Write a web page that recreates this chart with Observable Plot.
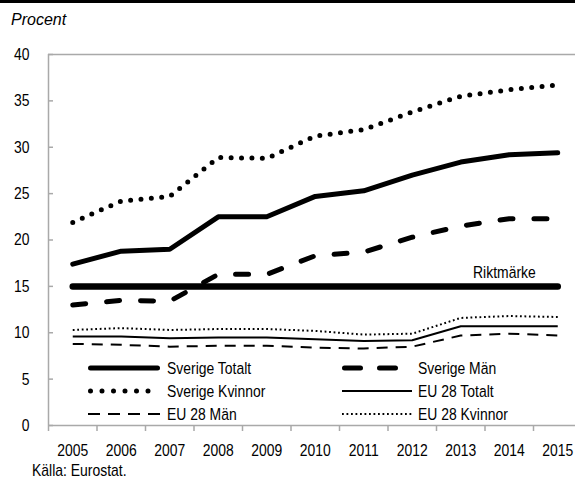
<!DOCTYPE html>
<html><head><meta charset="utf-8">
<script src="https://cdn.jsdelivr.net/npm/d3@7"></script>
<script src="https://cdn.jsdelivr.net/npm/@observablehq/plot@0.6"></script>
<style>
body{margin:0;background:#fff;}
#wrap{position:relative;width:575px;height:481px;overflow:hidden;background:#fff;font-family:"Liberation Sans",Arial,sans-serif;color:#000;}
#bar{position:absolute;left:0;top:0;width:575px;height:3px;background:#000;}
#title{position:absolute;left:11px;top:11px;font:italic 16px "Liberation Sans",Arial,sans-serif;}
#chart{position:absolute;left:0;top:0;}
#legend{position:absolute;left:0;top:0;}
#source{position:absolute;left:32px;top:461px;font-size:17px;line-height:20px;transform:scaleX(0.82);transform-origin:0 0;white-space:nowrap;}
</style></head>
<body><div id="wrap"><div id="chart"></div><svg id="legend" width="575" height="481"></svg><div id="bar"></div><div id="title">Procent</div><div id="source">Källa: Eurostat.</div></div>
<script>
const years = [2005, 2006, 2007, 2008, 2009, 2010, 2011, 2012, 2013, 2014, 2015];
const seriesNames = ["Sverige Totalt", "Sverige Män", "Sverige Kvinnor", "EU 28 Totalt", "EU 28 Män", "EU 28 Kvinnor"];
const sverigeTotalt  = [17.4, 18.8, 19.0, 22.5, 22.5, 24.7, 25.3, 27.0, 28.4, 29.2, 29.4];
const sverigeMan     = [13.0, 13.5, 13.4, 16.3, 16.3, 18.3, 18.7, 20.3, 21.5, 22.3, 22.3];
const sverigeKvinnor = [21.9, 24.2, 24.7, 28.9, 28.8, 31.2, 31.9, 33.8, 35.5, 36.2, 36.7];
const eu28Totalt     = [9.6, 9.6, 9.4, 9.5, 9.5, 9.3, 9.1, 9.2, 10.7, 10.7, 10.7];
const eu28Man        = [8.8, 8.7, 8.5, 8.6, 8.6, 8.4, 8.3, 8.5, 9.7, 9.9, 9.7];
const eu28Kvinnor    = [10.3, 10.5, 10.3, 10.4, 10.4, 10.2, 9.8, 9.9, 11.6, 11.8, 11.7];
const riktmarke = 15;
const riktmarkeLabel = "Riktmärke";
const yTicks = [0, 5, 10, 15, 20, 25, 30, 35, 40];

const seriesValues = [sverigeTotalt, sverigeMan, sverigeKvinnor, eu28Totalt, eu28Man, eu28Kvinnor];
const styles = [
  {strokeWidth: 5, strokeDasharray: null, strokeLinecap: "round"},
  {strokeWidth: 5, strokeDasharray: "13 21", strokeLinecap: "round"},
  {strokeWidth: 5, strokeDasharray: "0 10.4", strokeLinecap: "round"},
  {strokeWidth: 2, strokeDasharray: null, strokeLinecap: "butt"},
  {strokeWidth: 2, strokeDasharray: "11 8", strokeLinecap: "butt"},
  {strokeWidth: 2, strokeDasharray: "1.8 2.7", strokeLinecap: "butt"}
];
const data = seriesNames.flatMap((s, i) => years.map((yr, j) => ({series: s, year: yr, value: seriesValues[i][j]})));
const boundaries = years.map(y => y - 0.5);
const gray = "#a9a9a9";
const font = '"Liberation Sans",Arial,sans-serif';
const SX = 0.82;

const lineMarks = seriesNames.map((s, i) => Plot.lineY(data.filter(d => d.series === s), {
  x: "year", y: "value", stroke: "#000", curve: "linear",
  strokeWidth: styles[i].strokeWidth,
  strokeDasharray: styles[i].strokeDasharray,
  strokeLinecap: styles[i].strokeLinecap,
  strokeLinejoin: "round"
}));

const plot = Plot.plot({
  width: 575, height: 481,
  marginTop: 54, marginBottom: 56, marginLeft: 48, marginRight: 0,
  x: {domain: [years[0] - 0.5, years[years.length - 1] + 0.5], range: [48, 581.5]},
  y: {domain: [0, 40]},
  style: {fontFamily: font, fontSize: "17px", color: "#000", background: "transparent"},
  marks: [
    Plot.ruleY([40], {stroke: gray, strokeWidth: 1.5}),
    Plot.ruleY([0], {stroke: gray, strokeWidth: 1.5}),
    Plot.ruleX([boundaries[0]], {stroke: gray, strokeWidth: 1.5}),
    Plot.axisY(yTicks, {tickSize: -5, tickPadding: 24, stroke: gray, strokeWidth: 1.5, fill: "#000", label: null, tickFormat: d => String(d)}),
    Plot.axisX(boundaries, {tickSize: 6, stroke: gray, strokeWidth: 1.5, tickFormat: () => "", label: null}),
    Plot.axisX(years, {tickSize: 0, tickPadding: 18, fill: "#000", label: null, tickFormat: d => String(d)}),
    Plot.lineY(years, {x: d => d, y: () => riktmarke, stroke: "#000", strokeWidth: 6.5, strokeLinecap: "round"}),
    ...lineMarks,
    Plot.text([riktmarkeLabel], {x: () => years[9] - 0.1, y: () => riktmarke, text: d => d, dy: -14, fill: "#000", fontSize: 17})
  ]
});
document.getElementById("chart").appendChild(plot);

// condense all texts horizontally (narrow typeface look)
function condense(root) {
  root.querySelectorAll("text").forEach(t => {
    const tr = t.getAttribute("transform");
    if (tr) {
      t.setAttribute("transform", tr + ` scale(${SX},1)`);
    } else {
      const x = +t.getAttribute("x") || 0, y = +t.getAttribute("y") || 0;
      t.removeAttribute("x"); t.removeAttribute("y");
      t.setAttribute("transform", `translate(${x},${y}) scale(${SX},1)`);
    }
  });
}
condense(plot);

// legend
const lg = d3.select("#legend");
const rows = [368, 391, 414];
const cols = [{x1: 88, x2: 160, tx: 167}, {x1: 342, x2: 412, tx: 418}];
seriesNames.forEach((s, i) => {
  const r = rows[Math.floor(i / 2)], c = cols[i % 2];
  const st = styles[i];
  lg.append("line").attr("x1", c.x1 + (st.strokeLinecap === "round" ? 2.5 : 0)).attr("x2", c.x2 - (st.strokeLinecap === "round" ? 2.5 : 0))
    .attr("y1", r).attr("y2", r).attr("stroke", "#000")
    .attr("stroke-width", st.strokeWidth)
    .attr("stroke-dasharray", i === 1 ? "16 19" : i === 2 ? "0 11.5" : i === 4 ? "12 8" : st.strokeDasharray)
    .attr("stroke-linecap", st.strokeLinecap);
  lg.append("text").attr("x", c.tx).attr("y", r).attr("dy", "0.36em")
    .attr("font-family", font).attr("font-size", 17).attr("fill", "#000").text(s);
});
condense(document.getElementById("legend"));
</script>
</body></html>
